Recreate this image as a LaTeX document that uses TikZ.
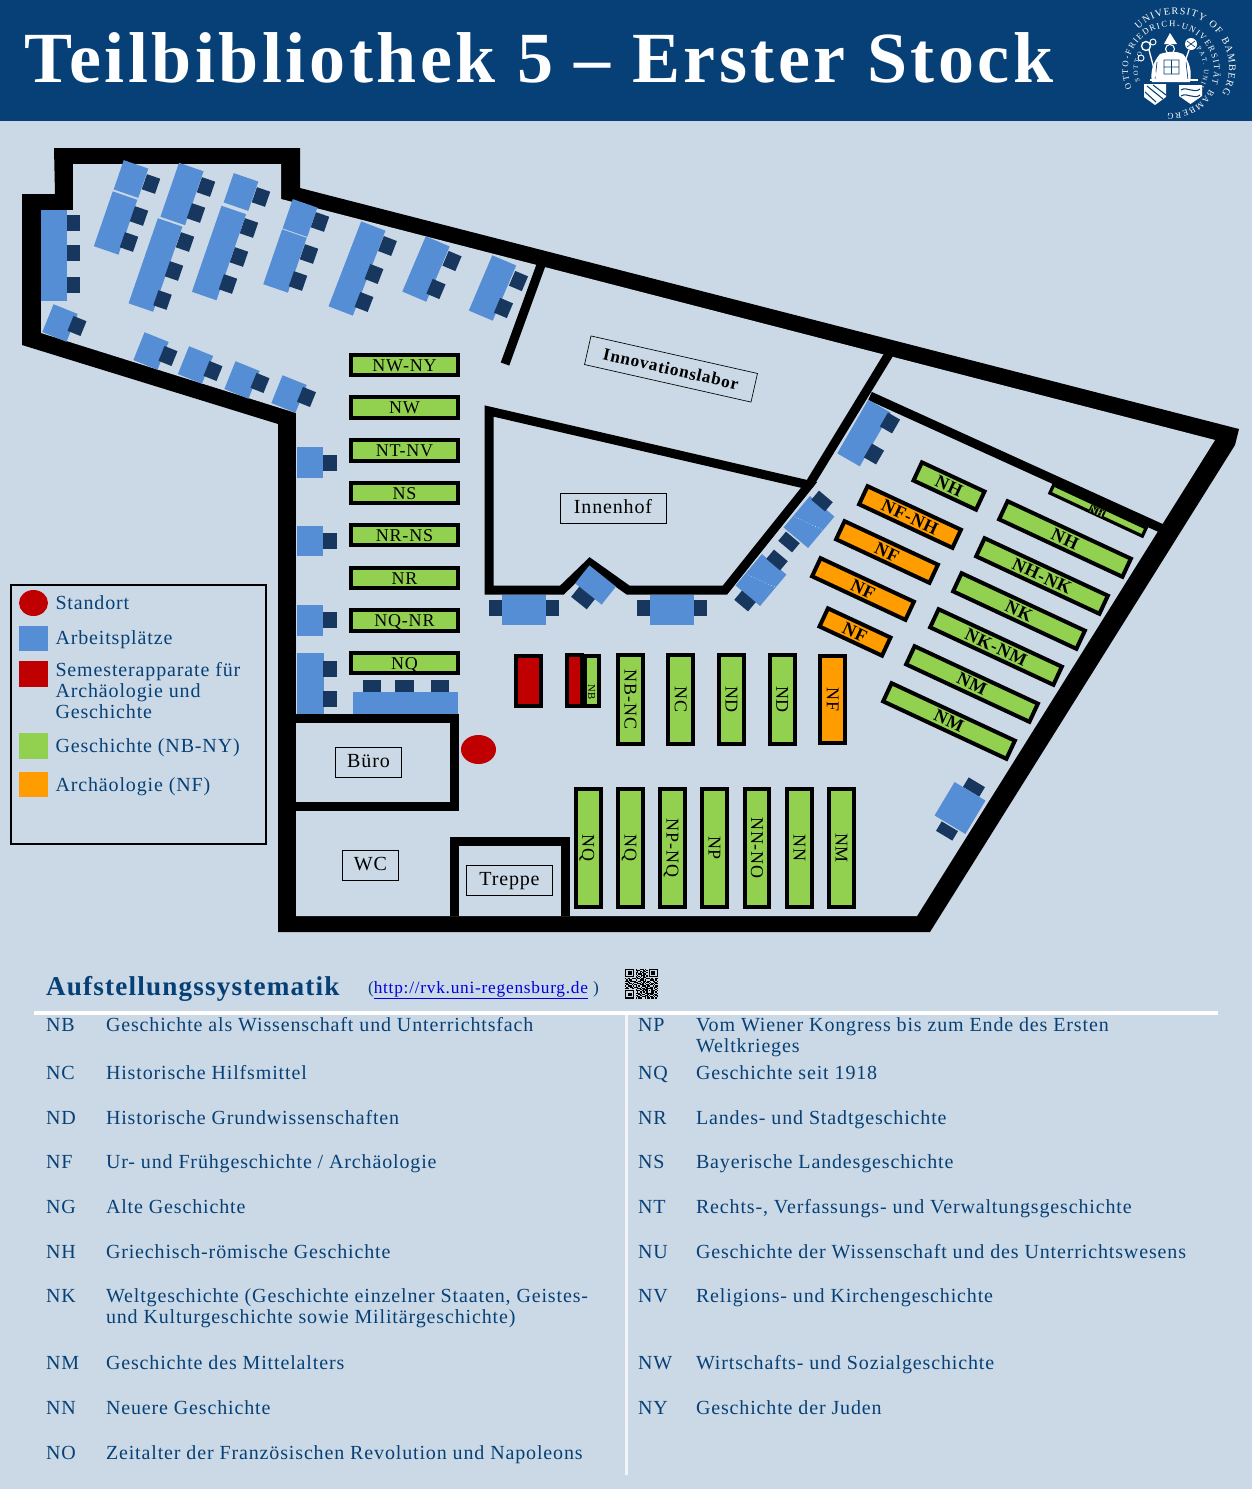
\documentclass[tikz,border=0pt]{standalone}
\usepackage{fontspec}
\setmainfont{Liberation Serif}[LetterSpace=4.3]
\newfontfamily\titlefont{Liberation Serif}[LetterSpace=4.9]
\usetikzlibrary{decorations.text}
\definecolor{bgc}{RGB}{203,217,230}
\definecolor{headc}{RGB}{6,64,118}
\definecolor{deskc}{RGB}{85,142,213}
\definecolor{chairc}{RGB}{23,55,94}
\definecolor{greenc}{RGB}{146,208,80}
\definecolor{orangec}{RGB}{255,156,0}
\definecolor{redc}{RGB}{192,0,0}
\definecolor{linkc}{RGB}{0,0,220}
\newcommand\fBody{\fontsize{15}{15.75}\selectfont}
\newcommand\fShelf{\fontsize{13.5}{14}\selectfont}
\newcommand\fTilt{\fontsize{13.5}{14}\selectfont\bfseries}
\tikzset{
 shelfbox/.style={draw=black,line width=3pt,inner sep=0pt,outer sep=0pt,text=black,font=\fShelf,text height=9pt,text depth=0pt},
 wall/.style={draw=black,line width=6.75pt,miter limit=10},
 roomlabel/.style={draw=black,line width=.7pt,fill=none,inner sep=0pt,text=black,font=\fontsize{15}{16}\selectfont,text height=10pt,text depth=2pt},
 txt/.style={anchor=base west,inner sep=0pt,outer sep=0pt,text=headc,font=\fBody},
 legendswatch/.style={inner sep=0pt,outer sep=0pt},
}
% name, cx, cy, outer length, outer thickness, rotation, colour, label
\newcommand\shelf[8]{\node[shelfbox,fill=#7,minimum width={(#4-4)*0.75pt},minimum height={(#5-4)*0.75pt},rotate=#6] (#1) at (#2,#3) {#8};}
\newcommand\tshelf[8]{\node[shelfbox,font=\fTilt,fill=#7,minimum width={(#4-4)*0.75pt},minimum height={(#5-4)*0.75pt},rotate=#6] (#1) at (#2,#3) {#8};}
% cx, cy, length (along top-bottom), width, rotation
\newcommand\desk[5]{\fill[deskc,shift={(#1,#2)},rotate=#5] ({-#4/2},{-#3/2}) rectangle ({#4/2},{#3/2});}
\newcommand\chair[5]{\fill[chairc,shift={(#1,#2)},rotate=#5] ({-#4/2},{-#3/2}) rectangle ({#4/2},{#3/2});}
\newcount\qrx
\def\qry{0}
\def\qrnext#1{\ifx#1\relax\else\if#11\fill[black] ({625+\the\qrx*1.32},{968.5+\qry*1.2}) rectangle +(1.4,1.3);\fi\advance\qrx by 1 \expandafter\qrnext\fi}
\newcommand\qrrow[2]{\def\qry{#1}\qrx=0 \qrnext#2\relax}
\newcommand\ringtext[5]{\path[decorate,decoration={text along path,text align={fit to path},text={|\color{white}\fontsize{#1}{#1}\selectfont|#2}}] (#3:#5) arc[start angle=#3,end angle=#4,radius=#5];}
\begin{document}
\begin{tikzpicture}[x=0.75pt,y=-0.75pt]
\useasboundingbox (0,0) rectangle (1252,1489);
\fill[bgc] (0,0) rectangle (1252,1489);
\fill[headc] (0,0) rectangle (1252,121);
\node[anchor=base west,inner sep=0pt,text=white,font=\fontsize{54}{58}\selectfont\titlefont\bfseries] (title) at (24,82) {Teilbibliothek 5 – Erster Stock};
% seal
\begin{scope}[shift={(1176,67)},x=0.75pt,y=0.75pt]
 \ringtext{7.5}{UNIVERSITY OF BAMBERG}{135}{-30}{53}
\end{scope}
\begin{scope}[shift={(1171,70)},x=0.75pt,y=0.75pt]
 \ringtext{6.5}{OTTO-FRIEDRICH-UNIVERSITÄT BAMBERG}{205}{-95}{43}
 \ringtext{5}{SOTTO}{200}{150}{33}
 \ringtext{5}{PAT. UNIV}{40}{-35}{33}
\end{scope}
\begin{scope}[white]
 \fill (1164,44) -- (1170,33) -- (1177,44) -- cycle;
 \draw[line width=.8pt] (1170,49) circle[radius=4.5];
 \fill (1160,54) .. controls (1170,51) and (1176,51) .. (1183,54) .. controls (1190,62) and (1192,72) .. (1190,82) -- (1152,82) .. controls (1150,72) and (1153,62) .. (1160,54) -- cycle;
 \draw[headc,line width=.5pt] (1164,60) rectangle (1179,74) (1171.5,60) -- (1171.5,74) (1164,67) -- (1179,67) (1157,62) -- (1155,80) (1186,62) -- (1188,80);
 \draw[line width=1pt] (1146,46) circle[radius=4.5] (1149,50) -- (1157,80);
 \draw[line width=.7pt] (1141,58) circle[radius=3] (1153,42) circle[radius=3];
 \fill (1191,44) circle[radius=6];
 \draw[headc,line width=.5pt] (1187,41) -- (1195,47) (1187,47) -- (1195,41);
 \draw[line width=1pt] (1189,50) -- (1178,82);
 \draw[line width=1.2pt] (1150,80) -- (1198,80);
 \fill (1144,84) -- (1166,84) -- (1166,97) -- (1155,105) -- (1144,97) -- cycle;
 \draw[headc,line width=.8pt] (1147,86) -- (1163,99) (1145,92) -- (1156,102) (1153,85) -- (1166,95);
 \fill (1179,85) -- (1202,85) -- (1202,96) -- (1190.5,104) -- (1179,96) -- cycle;
 \draw[headc,line width=.8pt] (1181,90) .. controls (1187,86) and (1194,94) .. (1200,89) (1181,96) .. controls (1187,92) and (1194,100) .. (1200,95);
\end{scope}
% building
\fill[black] (22,194) -- (55,194) -- (54,148) -- (300,148) -- (300,188) -- (1239,429) -- (1235,445) -- (930,932) -- (278,932) -- (278,424) -- (22,345) -- cycle;
\fill[bgc] (41,210) -- (73,210) -- (73,164) -- (281,164) -- (281,199) -- (1215,440) -- (917,916) -- (296,916) -- (296,413) -- (41,333) -- cycle;
\draw[wall] (541,265) -- (505,364);
\draw[wall] (489,411) -- (489,590) -- (562,590) -- (590,563) -- (628,590) -- (725,590) -- (809,485) -- cycle;
\draw[wall] (809,485) -- (889,354);
\draw[wall] (870,396) -- (1165,530);
\draw[wall] (293,718) -- (454,718) -- (454,806) -- (293,806);
\draw[wall] (454,916) -- (454,841) -- (565,841) -- (565,916);
% room labels
\node[roomlabel,minimum width=79.5pt,minimum height=23pt] (innenhof) at (613,508.5) {Innenhof};
\node[roomlabel,minimum width=50pt,minimum height=22.5pt] (buero) at (368.5,762) {Büro};
\node[roomlabel,minimum width=42.5pt,minimum height=23pt] (wc) at (370.5,865.5) {WC};
\node[roomlabel,minimum width=64pt,minimum height=23pt] (treppe) at (509.5,880.5) {Treppe};
\node[draw=black,line width=.5pt,inner sep=0pt,text=black,minimum width=128pt,minimum height=22pt,rotate=-12.7,font=\fontsize{13}{14}\selectfont\bfseries] (labor) at (671,369) {Innovationslabor};
% desks upper left
\desk{54}{255.5}{91}{26}{0}
\chair{73.5}{223}{16}{13}{0}\chair{73.5}{253}{16}{13}{0}\chair{73.5}{285}{16}{13}{0}
\desk{131}{179}{31}{26}{-19}\desk{115.6}{223}{58}{26}{-19}
\chair{151}{184}{16}{14}{-19}\chair{139}{216}{16}{14}{-19}\chair{129}{242}{16}{14}{-19}
\desk{182}{194}{57}{26}{-19}\desk{155.5}{265}{90}{26}{-19}
\chair{206}{187}{16}{14}{-19}\chair{196}{213}{16}{14}{-19}\chair{185}{242}{16}{14}{-19}\chair{174}{271}{16}{14}{-19}\chair{162.5}{300}{16}{14}{-19}
\desk{241}{192}{31}{26}{-19}\desk{219}{253}{91}{26}{-19}
\chair{261}{197}{16}{14}{-19}\chair{249}{228}{16}{14}{-19}\chair{239}{257}{16}{14}{-19}\chair{228}{284}{16}{14}{-19}
\desk{300}{218}{31}{26}{-19}\desk{285}{261}{58}{26}{-19}
\chair{320}{222}{16}{14}{-19}\chair{309}{254}{16}{14}{-19}\chair{298}{281}{16}{14}{-19}
\desk{357}{268.5}{91}{26}{-21}
\chair{387.5}{246}{16}{14}{-21}\chair{374}{274}{16}{14}{-21}\chair{364}{302}{16}{14}{-21}
\desk{426}{269}{60}{26}{-23}
\chair{452}{261}{16}{14}{-23}\chair{436}{289}{16}{14}{-23}
\desk{492.5}{288}{60}{26}{-23}
\chair{518.5}{281}{16}{14}{-23}\chair{503.5}{308}{16}{14}{-23}
\desk{60}{323}{30}{26}{-22}\chair{77}{326}{16}{14}{-22}
\desk{151}{351}{30}{26}{-22}\chair{168}{356}{16}{14}{-22}
\desk{195.5}{365}{30}{26}{-22}\chair{213}{371}{16}{14}{-22}
\desk{242}{380}{30}{26}{-22}\chair{260}{383}{16}{14}{-22}
\desk{289}{394}{30}{26}{-22}\chair{306.5}{397}{16}{14}{-22}
% left column desks
\desk{310}{462.5}{31}{26}{0}\chair{330}{463}{16}{14}{0}
\desk{310}{541}{30}{26}{0}\chair{330}{541}{16}{14}{0}
\desk{310}{620.5}{31}{26}{0}\chair{330}{620}{16}{14}{0}
\desk{310}{683.5}{61}{27}{0}\chair{330}{669}{16}{14}{0}\chair{330}{699}{16}{14}{0}
\desk{405.5}{703}{22}{105}{0}
\chair{372}{686}{12}{18}{0}\chair{404.25}{686}{12}{18.5}{0}\chair{440}{686}{12}{18}{0}
% courtyard desks
\desk{524}{610}{30}{44}{0}\chair{495.5}{608}{16}{13}{0}\chair{552.5}{608}{16}{13}{0}
\desk{672}{610}{30}{44}{0}\chair{643.5}{608}{16}{13}{0}\chair{700.5}{608}{16}{13}{0}
\desk{595.5}{585}{23}{34}{-38.6}\chair{583}{598}{13}{20}{-38.6}
\desk{809}{522}{41}{32}{-40}\chair{822}{501}{12}{18}{-40}\chair{789}{542}{12}{18}{-40}
\desk{761}{580}{41}{32}{-40}\chair{777}{560}{12}{18}{-40}\chair{745}{601}{12}{18}{-40}
\draw[white,line width=.4pt,dotted] (795,517) -- (823,530) (748,575) -- (775,587);
\desk{864}{433}{62}{26}{-30}\chair{890}{423}{16}{14}{-30}\chair{874}{454}{16}{14}{-30}
\desk{960}{808}{39}{36}{-31}\chair{974}{787}{11}{19}{-31}\chair{947}{831}{11}{19}{-31}
% horizontal shelves
\shelf{s1}{404.5}{365}{110.5}{24.5}{0}{greenc}{NW-NY}
\shelf{s2}{404.5}{407.5}{110.5}{24.5}{0}{greenc}{NW}
\shelf{s3}{404.5}{450.5}{110.5}{24.5}{0}{greenc}{NT-NV}
\shelf{s4}{404.5}{493}{110.5}{24.5}{0}{greenc}{NS}
\shelf{s5}{404.5}{535}{110.5}{24.5}{0}{greenc}{NR-NS}
\shelf{s6}{404.5}{578}{110.5}{24.5}{0}{greenc}{NR}
\shelf{s7}{404.5}{620.5}{110.5}{24.5}{0}{greenc}{NQ-NR}
\shelf{s8}{404.5}{663}{110.5}{24.5}{0}{greenc}{NQ}
% apparatus
\node[shelfbox,fill=redc,minimum width=24.5*0.75pt,minimum height=50*0.75pt] (red1) at (528.5,681) {};
\node[shelfbox,fill=greenc,minimum width=14*0.75pt,minimum height=50*0.75pt,font=\fontsize{8}{8}\selectfont,text height=5.5pt] (nb) at (591.5,681) {\rotatebox{-90}{NB}};
\node[shelfbox,fill=redc,minimum width=15*0.75pt,minimum height=51*0.75pt] (red2) at (574.5,680.5) {};
% vertical shelves
\shelf{v1}{630.5}{699.5}{93}{29}{-90}{greenc}{NB-NC}
\shelf{v2}{680.75}{699.5}{93}{29}{-90}{greenc}{NC}
\shelf{v3}{731.5}{699.5}{93}{29}{-90}{greenc}{ND}
\shelf{v4}{782.25}{699.5}{93}{29}{-90}{greenc}{ND}
\shelf{v5}{832.75}{699.5}{91}{29}{-90}{orangec}{NF}
\shelf{w1}{588.25}{848}{122}{29}{-90}{greenc}{NQ}
\shelf{w2}{630.5}{848}{122}{29}{-90}{greenc}{NQ}
\shelf{w3}{672.5}{848}{122}{29}{-90}{greenc}{NP-NQ}
\shelf{w4}{714.5}{848}{122}{29}{-90}{greenc}{NP}
\shelf{w5}{757}{848}{122}{28}{-90}{greenc}{NN-NO}
\shelf{w6}{799.5}{848}{122}{29}{-90}{greenc}{NN}
\shelf{w7}{841.5}{848}{122}{29}{-90}{greenc}{NM}
% tilted shelves
\tshelf{t1}{949}{486}{73}{24}{-25}{greenc}{NH}
\tshelf{t2}{910}{517}{107}{24}{-25}{orangec}{NF-NH}
\tshelf{t3}{887}{552}{107}{24}{-25}{orangec}{NF}
\tshelf{t4}{863}{589}{107}{24}{-25}{orangec}{NF}
\tshelf{t5}{855}{632}{73}{24}{-25}{orangec}{NF}
\tshelf{t6}{1065}{539}{140}{24}{-25}{greenc}{NH}
\tshelf{t7}{1042}{576}{140}{24}{-25}{greenc}{NH-NK}
\tshelf{t8}{1019}{611}{140}{24}{-25}{greenc}{NK}
\tshelf{t9}{996}{647}{140}{24}{-25}{greenc}{NK-NM}
\tshelf{t10}{972}{684}{140}{24}{-25}{greenc}{NM}
\tshelf{t11}{949}{721}{140}{24}{-25}{greenc}{NM}
\node[shelfbox,line width=2.4pt,fill=greenc,minimum width=102*0.75pt,minimum height=9*0.75pt,rotate=-25,text height=0pt] (t12) at (1098,510.5) {};
\node[fill=black,text=greenc,inner sep=.6pt,rotate=-25,font=\fontsize{7}{7}\selectfont\bfseries] (t12l) at (1097,511.5) {NH};
% standort
\fill[redc] (478.5,749.5) ellipse[x radius=17.5,y radius=14.5];
% legend
\node[draw=black,line width=1.5pt,minimum width=255*0.75pt,minimum height=259*0.75pt,inner sep=0pt] (legend) at (138.5,714) {};
\fill[redc] (33.5,603) ellipse[x radius=14.5,y radius=13];
\node[legendswatch,fill=deskc,minimum width=29*0.75pt,minimum height=25*0.75pt] (lg2) at (33.5,638.5) {};
\node[legendswatch,fill=redc,minimum width=29*0.75pt,minimum height=26*0.75pt] (lg3) at (33.5,674) {};
\node[legendswatch,fill=greenc,minimum width=29*0.75pt,minimum height=26*0.75pt] (lg4) at (33.5,746) {};
\node[legendswatch,fill=orangec,minimum width=29*0.75pt,minimum height=25*0.75pt] (lg5) at (33.5,784.5) {};
\node[txt] (l1) at (55.5,609) {Standort};
\node[txt] (l2) at (55.5,644) {Arbeitsplätze};
\node[txt] (l3a) at (55.5,676) {Semesterapparate für};
\node[txt] (l3b) at (55.5,697) {Archäologie und};
\node[txt] (l3c) at (55.5,718) {Geschichte};
\node[txt] (l4) at (55.5,752) {Geschichte (NB-NY)};
\node[txt] (l5) at (55.5,791) {Archäologie (NF)};
% table head
\node[txt,font=\fontsize{20.4}{22}\selectfont\bfseries] (heading) at (46,995) {Aufstellungssystematik};
\node[txt,font=\fontsize{13}{14}\selectfont] (link) at (368,993) {(\textcolor{linkc}{\underline{http://rvk.uni-regensburg.de}} )};
\qrrow{0}{1111111010011101001111111}
\qrrow{1}{1000001011100010101000001}
\qrrow{2}{1011101001011011001011101}
\qrrow{3}{1011101011010100101011101}
\qrrow{4}{1011101010111011001011101}
\qrrow{5}{1000001001001110101000001}
\qrrow{6}{1111111010101010101111111}
\qrrow{7}{0000000011010011000000000}
\qrrow{8}{1011011101101100111010011}
\qrrow{9}{0101100010011101000111010}
\qrrow{10}{1110111100110011011001101}
\qrrow{11}{0011000111001010110100110}
\qrrow{12}{1101101001110101001011011}
\qrrow{13}{0110010110011100110110100}
\qrrow{14}{1011101010100111011001011}
\qrrow{15}{0100110111001001100110110}
\qrrow{16}{1110011001110110111110101}
\qrrow{17}{0000000010011011100010010}
\qrrow{18}{1111111011100101101011101}
\qrrow{19}{1000001001011010100011010}
\qrrow{20}{1011101011101001111111001}
\qrrow{21}{1011101000110110010110110}
\qrrow{22}{1011101011011001101001011}
\qrrow{23}{1000001001100111010110101}
\qrrow{24}{1111111010111001011011010}
\fill[white] (34,1011) rectangle (1218,1015);
\fill[white,opacity=.75] (625,1015) rectangle (628,1475);
% table left
\node[txt] (a1) at (46,1031) {NB};\node[txt] (b1) at (106,1031) {Geschichte als Wissenschaft und Unterrichtsfach};
\node[txt] (a2) at (46,1079) {NC};\node[txt] (b2) at (106,1079) {Historische Hilfsmittel};
\node[txt] (a3) at (46,1124) {ND};\node[txt] (b3) at (106,1124) {Historische Grundwissenschaften};
\node[txt] (a4) at (46,1168) {NF};\node[txt] (b4) at (106,1168) {Ur- und Frühgeschichte / Archäologie};
\node[txt] (a5) at (46,1213) {NG};\node[txt] (b5) at (106,1213) {Alte Geschichte};
\node[txt] (a6) at (46,1258) {NH};\node[txt] (b6) at (106,1258) {Griechisch-römische Geschichte};
\node[txt] (a7) at (46,1302) {NK};\node[txt] (b7) at (106,1302) {Weltgeschichte (Geschichte einzelner Staaten, Geistes-};
\node[txt] (b7b) at (106,1323) {und Kulturgeschichte sowie Militärgeschichte)};
\node[txt] (a8) at (46,1369) {NM};\node[txt] (b8) at (106,1369) {Geschichte des Mittelalters};
\node[txt] (a9) at (46,1414) {NN};\node[txt] (b9) at (106,1414) {Neuere Geschichte};
\node[txt] (a10) at (46,1459) {NO};\node[txt] (b10) at (106,1459) {Zeitalter der Französischen Revolution und Napoleons};
% table right
\node[txt] (c1) at (638,1031) {NP};\node[txt] (d1) at (696,1031) {Vom Wiener Kongress bis zum Ende des Ersten};
\node[txt] (d1b) at (696,1052) {Weltkrieges};
\node[txt] (c2) at (638,1079) {NQ};\node[txt] (d2) at (696,1079) {Geschichte seit 1918};
\node[txt] (c3) at (638,1124) {NR};\node[txt] (d3) at (696,1124) {Landes- und Stadtgeschichte};
\node[txt] (c4) at (638,1168) {NS};\node[txt] (d4) at (696,1168) {Bayerische Landesgeschichte};
\node[txt] (c5) at (638,1213) {NT};\node[txt] (d5) at (696,1213) {Rechts-, Verfassungs- und Verwaltungsgeschichte};
\node[txt] (c6) at (638,1258) {NU};\node[txt] (d6) at (696,1258) {Geschichte der Wissenschaft und des Unterrichtswesens};
\node[txt] (c7) at (638,1302) {NV};\node[txt] (d7) at (696,1302) {Religions- und Kirchengeschichte};
\node[txt] (c8) at (638,1369) {NW};\node[txt] (d8) at (696,1369) {Wirtschafts- und Sozialgeschichte};
\node[txt] (c9) at (638,1414) {NY};\node[txt] (d9) at (696,1414) {Geschichte der Juden};
\end{tikzpicture}
\end{document}
